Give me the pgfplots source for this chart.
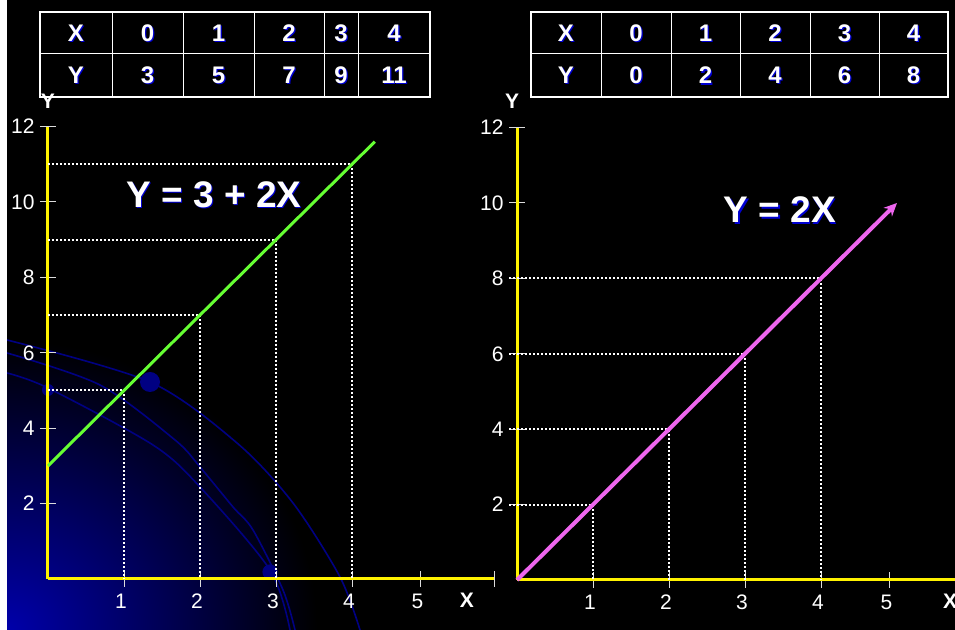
\documentclass[border=0pt]{standalone}
\usepackage{pgfplots}
\pgfplotsset{compat=1.18}
\usepackage{fontspec}
\setmainfont{Liberation Sans}
\usetikzlibrary{arrows.meta}
\definecolor{lgreen}{RGB}{102,255,51}
\definecolor{lpink}{RGB}{238,102,238}
\definecolor{shblue}{RGB}{0,0,210}
\definecolor{arcblue}{RGB}{0,0,130}
\definecolor{gradblue}{RGB}{0,0,170}
\definecolor{tickgray}{RGB}{220,220,220}

\newcommand{\sh}[3]{%
  \node[text=shblue,font=#2,xshift=0.6pt,yshift=-0.6pt,inner sep=0pt] at (#1) {#3};
  \node[text=white,font=#2,inner sep=0pt] at (#1) {#3};}
\newcommand{\tabfont}{\fontsize{12pt}{14pt}\selectfont\bfseries}
\newcommand{\bigfont}{\fontsize{18.5pt}{22pt}\selectfont\bfseries}

\pgfplotsset{
  panel/.style={
    x=38pt, y=18.85pt, ymin=0, ymax=12,
    axis x line=bottom, axis y line=left,
    axis line style={draw=yellow, line width=1.5pt, -},
    xtick={1,2,3,4,4.9}, xticklabels={1,2,3,4,5},
    ytick={2,4,6,8,10,12},
    tick align=center, major tick length=8pt,
    tick style={tickgray, line width=0.5pt},
    ticklabel style={text=white, font=\fontsize{10.5pt}{12pt}\selectfont},
    yticklabel style={xshift=0.8pt},
    xticklabel style={xshift=-1.5pt},
    /pgf/number format/assume math mode=true,
    clip=false,
  },
  dot/.style={white, line width=1pt, dash pattern=on 1pt off 1pt},
}

\begin{document}
\begin{tikzpicture}[x=0.5pt, y=0.5pt]
\useasboundingbox (0,0) rectangle (955,630);
\fill[black] (0,0) rectangle (955,630);
\fill[white] (0,0) rectangle (7,630);

% decorative background in the lower left corner
\begin{scope}
  \clip (7,0) rectangle (955,630);
  \shade[inner color=gradblue, outer color=black] (7,0) ellipse (310 and 290);
  \draw[arcblue, line width=0.8pt] plot[smooth] coordinates {(7,290) (150,248) (237,187) (293,127) (340,53) (360,0)};
  \draw[arcblue, line width=0.8pt] plot[smooth] coordinates {(7,277) (100,245) (175,190) (200,163) (233,123) (253,100) (283,40) (295,0)};
  \draw[arcblue, line width=0.8pt] plot[smooth] coordinates {(7,257) (48,242) (153,185) (200,143) (270,60) (290,0)};
  \fill[arcblue] (150,248) circle (5pt);
  \fill[arcblue] (270,58) circle (3.8pt);
  \fill[arcblue] (48,240) circle (3pt);
\end{scope}

% left table
\fill[black] (40,533) rectangle (430,618);
\draw[white, line width=0.5pt] (40,576) -- (430,576);
\foreach \c in {112,183,254,324,358} \draw[white, line width=0.5pt] (\c,533) -- (\c,618);
\draw[white, line width=1.2pt] (40,533) rectangle (430,618);
\sh{76,597}{\tabfont}{X}\sh{147.5,597}{\tabfont}{0}\sh{218.5,597}{\tabfont}{1}
\sh{289,597}{\tabfont}{2}\sh{341,597}{\tabfont}{3}\sh{394,597}{\tabfont}{4}
\sh{76,554.5}{\tabfont}{Y}\sh{147.5,554.5}{\tabfont}{3}\sh{218.5,554.5}{\tabfont}{5}
\sh{289,554.5}{\tabfont}{7}\sh{341,554.5}{\tabfont}{9}\sh{394,554.5}{\tabfont}{11}

% right table
\fill[black] (531,533) rectangle (948,618);
\draw[white, line width=0.5pt] (531,576) -- (948,576);
\foreach \c in {601,671,740,810,879} \draw[white, line width=0.5pt] (\c,533) -- (\c,618);
\draw[white, line width=1.2pt] (531,533) rectangle (948,618);
\sh{566,597}{\tabfont}{X}\sh{636,597}{\tabfont}{0}\sh{705.5,597}{\tabfont}{1}
\sh{775,597}{\tabfont}{2}\sh{844.5,597}{\tabfont}{3}\sh{913.5,597}{\tabfont}{4}
\sh{566,554.5}{\tabfont}{Y}\sh{636,554.5}{\tabfont}{0}\sh{705.5,554.5}{\tabfont}{2}
\sh{775,554.5}{\tabfont}{4}\sh{844.5,554.5}{\tabfont}{6}\sh{913.5,554.5}{\tabfont}{8}

% left panel: Y = 3 + 2X
\begin{axis}[panel, at={(24pt,25.5pt)}, anchor=south west, xmin=0, xmax=5.87,
  extra x ticks={5.87}, extra x tick labels={},
  xlabel={X}, ylabel={Y},
  every axis x label/.style={at={(axis description cs:0.9387,0)}, anchor=center, yshift=-10.5pt, text=white, font=\fontsize{10.5pt}{12pt}\selectfont\bfseries},
  every axis y label/.style={at={(axis description cs:0,1.0567)}, anchor=center, text=white, font=\fontsize{10.5pt}{12pt}\selectfont\bfseries},
]
\addplot[dot] coordinates {(0,5) (1,5) (1,0)};
\addplot[dot] coordinates {(0,7) (2,7) (2,0)};
\addplot[dot] coordinates {(0,9) (3,9) (3,0)};
\addplot[dot] coordinates {(0,11) (4,11) (4,0)};
\addplot[lgreen, line width=1.5pt] coordinates {(0,3) (1,5) (2,7) (3,9) (4,11) (4.3,11.6)};
\end{axis}

% right panel: Y = 2X
\begin{axis}[panel, at={(258.5pt,25pt)}, anchor=south west, xmin=0, xmax=5.9,
  xlabel={X}, ylabel={Y},
  every axis x label/.style={at={(axis description cs:0.966,0)}, anchor=center, yshift=-10.5pt, text=white, font=\fontsize{10.5pt}{12pt}\selectfont\bfseries},
  every axis y label/.style={at={(axis description cs:-0.011,1.058)}, anchor=center, text=white, font=\fontsize{10.5pt}{12pt}\selectfont\bfseries},
]
\addplot[dot] coordinates {(-0.1,2) (1,2) (1,0)};
\addplot[dot] coordinates {(-0.1,4) (2,4) (2,0)};
\addplot[dot] coordinates {(-0.1,6) (3,6) (3,0)};
\addplot[dot] coordinates {(-0.1,8) (4,8) (4,0)};
\addplot[lpink, line width=2pt, -{Stealth[length=6.5pt,width=6pt]}] coordinates {(0,0) (1,2) (2,4) (3,6) (4,8) (5,10)};
\end{axis}

% equations
\sh{214,435}{\bigfont}{Y = 3 + 2X}
\sh{780,420}{\bigfont}{Y = 2X}
\end{tikzpicture}
\end{document}
